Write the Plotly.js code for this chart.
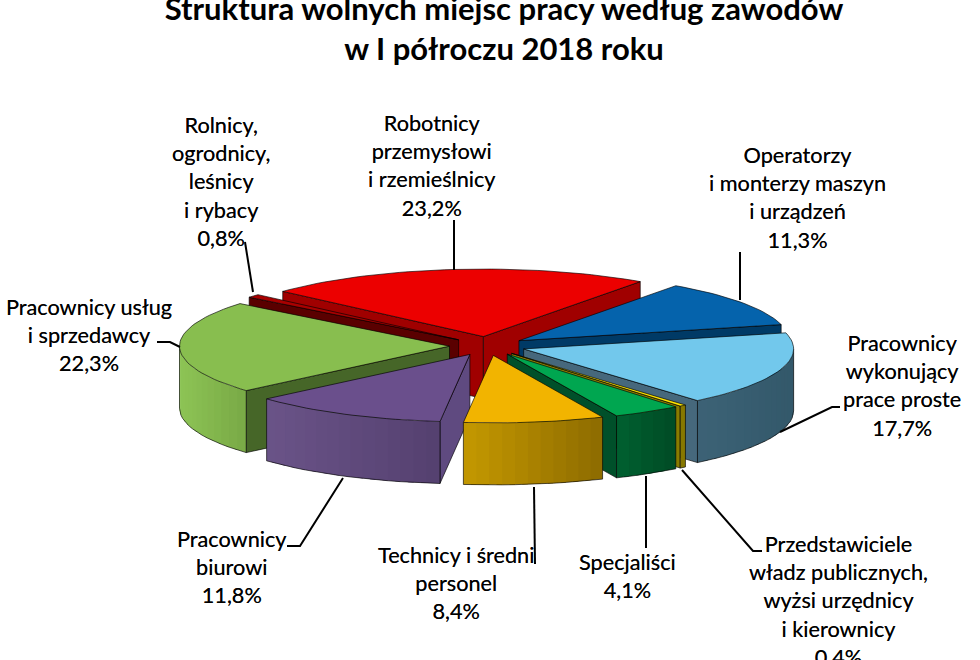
<!DOCTYPE html>
<html><head><meta charset="utf-8">
<script src="https://cdn.plot.ly/plotly-3.0.1.min.js"></script>
<style>html,body{margin:0;padding:0;background:#fff}#c{width:980px;height:660px}</style>
</head><body><div id="c"></div>
<script>
// ---- data (clockwise, starting from the first slice) ----
var categories = ["Robotnicy przemysłowi i rzemieślnicy","Operatorzy i monterzy maszyn i urządzeń","Pracownicy wykonujący prace proste","Przedstawiciele władz publicznych, wyżsi urzędnicy i kierownicy","Specjaliści","Technicy i średni personel","Pracownicy biurowi","Pracownicy usług i sprzedawcy","Rolnicy, ogrodnicy, leśnicy i rybacy"];
var shares = [23.2,11.3,17.7,0.4,4.1,8.4,11.8,22.3,0.8];
var labelTexts = ["Robotnicy<br>przemysłowi<br>i rzemieślnicy<br>23,2%","Operatorzy<br>i monterzy maszyn<br>i urządzeń<br>11,3%","Pracownicy<br>wykonujący<br>prace proste<br>17,7%","Przedstawiciele<br>władz publicznych,<br>wyżsi urzędnicy<br>i kierownicy<br>0,4%","Specjaliści<br>4,1%","Technicy i średni<br>personel<br>8,4%","Pracownicy<br>biurowi<br>11,8%","Pracownicy usług<br>i sprzedawcy<br>22,3%","Rolnicy,<br>ogrodnicy,<br>leśnicy<br>i rybacy<br>0,8%"];
var titleText = "Struktura wolnych miejsc pracy według zawodów<br>w I półroczu 2018 roku";
// ---- styles ----
var topColors  = ["#EC0000","#0563AC","#72C8EC","#FFE600","#00A650","#F2B400","#6A4F8C","#88BE4F","#A80000"];
var cutColors  = ["#A00000","#003A66","#46687C","#8A7C00","#00502A","#8C6A00","#5F4A80","#466628","#5A0000"];
var wallLeft   = ["#A00000","#003A66","#3C6276","#8F8000","#006030","#C49800","#6A5388","#8DC455","#5A0000"];
var wallRight  = ["#800000","#003A66","#33586A","#807000","#004A24","#8C6A00","#54406F","#78A845","#5A0000"];
var drawOrder  = [0,1,8,2,7,6,3,4,5];
var labelPos   = [[432,165.5],[797,197.5],[902,385.5],[838,600.5],[627,575.5],[456,582.5],[232,566.5],[89,334.5],[221,181.5]];
var leaderPaths = ["M454,220 L454,270","M740,252 L740,300","M840,407 L832,407 L780,432","M682,470 L753,551 L762,551","M646,476 L646,548","M534,487 L535,564","M343,478 L300,546 L287,546","M157,342 L170,342 L180,347","M245,242 L253,292"];
// ---- projection of the pie ----
var cx=487.5, cy=346, R=270, K=0.25, depth=62, explode=38, startDeg=-48;

function rad(d){return d*Math.PI/180;}
function pt(tip,deg,dz){return [tip[0]+R*Math.sin(rad(deg)), tip[1]-R*K*Math.cos(rad(deg))+(dz||0)];}
function hex(c){return [parseInt(c.substr(1,2),16),parseInt(c.substr(3,2),16),parseInt(c.substr(5,2),16)];}
function mix(a,b,t){var A=hex(a),B=hex(b);return "rgb("+[0,1,2].map(function(i){return Math.round(A[i]+(B[i]-A[i])*t);}).join(",")+")";}

var total=shares.reduce(function(s,v){return s+v;},0), slices=[], acc=startDeg;
shares.forEach(function(v,i){
  var a=acc,b=acc+v/total*360,m=(a+b)/2; acc=b;
  slices.push({i:i,a:a,b:b,tip:[cx+explode*Math.sin(rad(m)),cy-explode*K*Math.cos(rad(m))]});
});
var traces=[];
function poly(pts,fill,outline,name){
  traces.push({type:"scatter",mode:"lines",x:pts.map(function(p){return p[0];}),y:pts.map(function(p){return p[1];}),
    fill:"toself",fillcolor:fill,line:{color:outline||fill,width:outline?0.8:0},showlegend:false,hoverinfo:name?"text":"skip",text:name||"",hoveron:"fills"});
}
function line(pts){
  traces.push({type:"scatter",mode:"lines",x:pts.map(function(p){return p[0];}),y:pts.map(function(p){return p[1];}),
    line:{color:"rgba(0,0,0,0.8)",width:0.8},showlegend:false,hoverinfo:"skip"});
}
var edge="rgba(0,0,0,0.8)";
drawOrder.forEach(function(idx){
  var s=slices[idx],t=s.tip,i=idx;
  var tipB=[t[0],t[1]+depth];
  // cut faces
  if(Math.sin(rad(s.a))<0){var p=pt(t,s.a),q=pt(t,s.a,depth);poly([t,p,q,tipB,t],cutColors[i],edge);}
  if(Math.sin(rad(s.b))>0){var p2=pt(t,s.b),q2=pt(t,s.b,depth);poly([t,p2,q2,tipB,t],cutColors[i],edge);}
  // outer wall, front half only
  var a0=Math.max(s.a,90),b0=Math.min(s.b,270);
  if(b0>a0){
    var n=Math.max(1,Math.ceil((b0-a0)/3)),xa=pt(t,a0)[0],xb=pt(t,b0)[0];
    var xL=Math.min(xa,xb),xR=Math.max(xa,xb),bot=[];
    for(var k=0;k<n;k++){
      var d1=a0+(b0-a0)*k/n,d2=Math.min(b0,a0+(b0-a0)*(k+1)/n+1.2);
      var f=(pt(t,(d1+d2)/2)[0]-xL)/Math.max(1,xR-xL);
      poly([pt(t,d1),pt(t,d2),pt(t,d2,depth),pt(t,d1,depth),pt(t,d1)],mix(wallLeft[i],wallRight[i],f));
    }
    for(var k2=0;k2<=n;k2++){bot.push(pt(t,a0+(b0-a0)*k2/n,depth));}
    line(bot);
    line([pt(t,a0),pt(t,a0,depth)]);
    line([pt(t,b0),pt(t,b0,depth)]);
  }
  // top face
  var face=[t],steps=Math.max(2,Math.ceil((s.b-s.a)/2));
  for(var j=0;j<=steps;j++){face.push(pt(t,s.a+(s.b-s.a)*j/steps));}
  face.push(t);
  poly(face,topColors[i],edge,categories[i]+": "+String(shares[i]).replace(".",",")+"%");
});

var FONT="Lato, Carlito, sans-serif";
var annotations=labelPos.map(function(pos,i){return {
  x:pos[0],y:pos[1],xref:"x",yref:"y",text:labelTexts[i],showarrow:false,xanchor:"center",yanchor:"middle",align:"center",
  font:{family:FONT,size:21.7,color:"#000",shadow:"0 0 0.6px rgba(0,0,0,0.7)"}};});
var shapes=leaderPaths.map(function(p){return {type:"path",path:p,xref:"x",yref:"y",layer:"above",line:{color:"#000",width:2}};});
var layout={width:980,height:660,margin:{l:0,r:0,t:0,b:0},paper_bgcolor:"#fff",plot_bgcolor:"#fff",showlegend:false,
  title:{text:titleText,x:504/980,xanchor:"center",y:1-20/660,yanchor:"middle",font:{family:FONT,size:31,color:"#000",weight:700}},
  xaxis:{range:[0,980],visible:false,fixedrange:true},
  yaxis:{range:[660,0],visible:false,fixedrange:true},
  annotations:annotations,shapes:shapes};
Plotly.newPlot("c",traces,layout,{displayModeBar:false});
</script></body></html>
